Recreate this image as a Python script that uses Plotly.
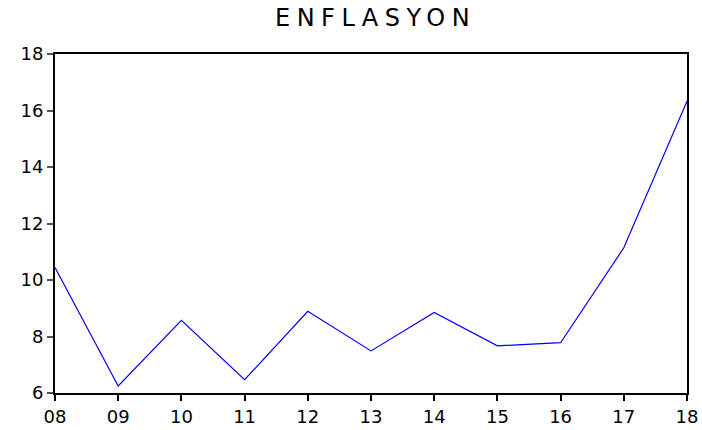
import plotly.graph_objects as go

years = ["08", "09", "10", "11", "12", "13", "14", "15", "16", "17", "18"]
enflasyon = [10.44, 6.25, 8.57, 6.47, 8.89, 7.49, 8.85, 7.67, 7.78, 11.14, 16.33]

fig = go.Figure()
fig.add_trace(go.Scatter(
    x=years, y=enflasyon, mode="lines",
    line=dict(color="#0000FF", width=1.2),
))

tick_font = dict(family="DejaVu Sans", size=18, color="black")

fig.update_layout(
    template="none",
    width=702, height=430,
    margin=dict(l=55, r=15, t=54, b=37, autoexpand=False),
    paper_bgcolor="white", plot_bgcolor="white",
    showlegend=False,
    font=dict(family="DejaVu Sans", size=18, color="black"),
    title=dict(text="<span style='letter-spacing:6.5px'>ENFLASYON</span>",
               x=0.535, xanchor="center", y=0.958, yanchor="middle",
               font=dict(family="DejaVu Sans", size=24)),
)
fig.update_xaxes(
    type="category", range=[0, 10], automargin=False,
    showline=True, linecolor="black", linewidth=2, mirror=True,
    ticks="outside", ticklen=6, tickcolor="black", tickwidth=1.5,
    tickfont=tick_font,
    showgrid=False, zeroline=False,
)
fig.update_yaxes(
    range=[6, 18], dtick=2, automargin=False,
    showline=True, linecolor="black", linewidth=2, mirror=True,
    ticks="outside", ticklen=6, tickcolor="#555555", tickwidth=1.5,
    tickfont=tick_font,
    showgrid=False, zeroline=False,
)

# drop the default body margin so the 702x430 figure fills the window
fig.write_html("out.html", config={"displayModeBar": False},
               post_script="document.body.style.margin='0';")
